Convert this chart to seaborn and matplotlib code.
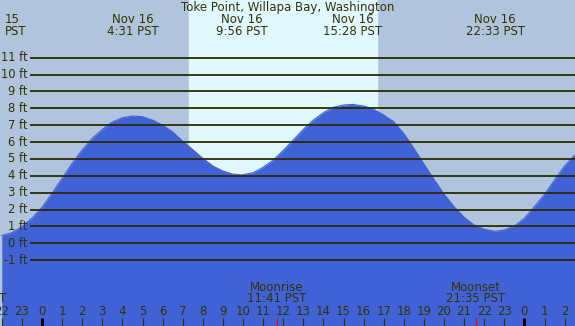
import numpy as np
import pandas as pd
import matplotlib
matplotlib.use("Agg")
import matplotlib.pyplot as plt
import matplotlib.transforms as mtransforms
import seaborn as sns

# tide height (ft), hours from midnight Nov 16 (PST)
hours = [-2, -1.5, -1, -0.5, 0, 0.5, 1, 1.5, 2, 2.5, 3, 3.5, 4, 4.52, 5, 5.5, 6, 6.5,
         7, 7.5, 8, 8.5, 9, 9.5, 9.93, 10.5, 11, 11.5, 12, 12.5, 13, 13.5, 14, 14.5,
         15, 15.47, 16, 16.5, 17, 17.5, 18, 18.5, 19, 19.5, 20, 20.5, 21, 21.5, 22,
         22.55, 23, 23.5, 24, 24.5, 25, 25.5, 26, 26.5]
heights = [0.46, 0.63, 0.98, 1.48, 2.13, 2.96, 3.85, 4.74, 5.53, 6.22, 6.75, 7.19, 7.44,
           7.54, 7.50, 7.30, 7.00, 6.60, 6.05, 5.55, 5.03, 4.58, 4.28, 4.10, 4.05, 4.18,
           4.50, 4.93, 5.50, 6.12, 6.75, 7.30, 7.74, 8.06, 8.19, 8.23, 8.13, 7.94, 7.60,
           7.20, 6.50, 5.63, 4.70, 3.79, 2.92, 2.17, 1.54, 1.08, 0.83, 0.71, 0.79, 1.02,
           1.48, 2.17, 2.90, 3.75, 4.58, 5.23]

# high / low tide events
event_hours = [4.52, 9.93, 15.47, 22.55]
event_labels = ["4:31 PST", "9:56 PST", "15:28 PST", "22:33 PST"]
event_day = "Nov 16"

sunrise, sunset = 7.31, 16.68
moonrise, moonset = 11.68, 21.58
moon_texts = [("Moonrise", "11:41 PST"), ("Moonset", "21:35 PST")]

levels = list(range(-1, 12))
tick_hours = list(range(-2, 27))
tick_labels = [str(h % 24) for h in tick_hours]

title = "Toke Point, Willapa Bay, Washington"

NIGHT = "#B0C4DE"
DAY = "#E0F8FF"
WATER = "#4161D6"
INK = "#333300"
LINE = "#2b2b00"

df = pd.DataFrame({"hour": hours, "height": heights})

fig = plt.figure(figsize=(5.75, 3.26), dpi=100)
ax = fig.add_axes([0, 0, 1, 1])
ax.set_facecolor(NIGHT)
ax.set_xlim(-2.0896, 26.517)
ax.set_ylim(-4.899, 14.414)
ax.set_axis_off()
fig.patch.set_facecolor(NIGHT)

ax.axvspan(sunrise, sunset, color=DAY, zorder=0)
ax.fill_between(df["hour"], df["height"], -10, color=WATER, lw=0, zorder=1)
sns.lineplot(data=df, x="hour", y="height", color=WATER, lw=0.8, ax=ax, zorder=2)

# level lines and labels
x0 = -0.62  # start of lines (just right of labels)
for lv in levels:
    ax.plot([x0, 27], [lv, lv], color=LINE, lw=1.3, zorder=3, solid_capstyle="butt")
    ax.text(x0 - 0.1, lv, f"{lv} ft", ha="right", va="center", fontsize=8.3, color=INK)

trans = mtransforms.blended_transform_factory(ax.transData, ax.transAxes)

# header
ax.text(0.5, 0.977, title, transform=ax.transAxes, ha="center", va="center",
        fontsize=8.5, color=INK)
for h, lab in zip(event_hours, event_labels):
    ax.text(h, 0.940, event_day, transform=trans, ha="center", va="center", fontsize=8.5, color=INK)
    ax.text(h, 0.9034, lab, transform=trans, ha="center", va="center", fontsize=8.5, color=INK)
# clipped label from the previous day
ax.text(0.008, 0.940, "15", transform=ax.transAxes, ha="left", va="center", fontsize=8.5, color=INK)
ax.text(0.008, 0.9034, "PST", transform=ax.transAxes, ha="left", va="center", fontsize=8.5, color=INK)

# hour ticks
for h, lab in zip(tick_hours, tick_labels):
    bold = (h % 24 == 0)
    ax.plot([h, h], [0, 0.0245], transform=trans, color="black" if bold else INK,
            lw=2.2 if bold else 0.8, solid_capstyle="butt", zorder=4)
    ax.text(h, 0.0439, lab, transform=trans, ha="center", va="center", fontsize=8.5, color=INK)

for h, (name, t) in zip([moonrise, moonset], moon_texts):
    ax.plot([h, h], [0, 0.0245], transform=trans, color="red", lw=0.8,
            solid_capstyle="butt", zorder=4)
    ax.text(h, 0.118, name, transform=trans, ha="center", va="center", fontsize=8.5, color=INK)
    ax.text(h, 0.083, t, transform=trans, ha="center", va="center", fontsize=8.5, color=INK)
ax.text(-0.002, 0.083, "T", transform=ax.transAxes, ha="left", va="center", fontsize=8.5, color=INK)

fig.savefig("out.png", dpi=100, facecolor=NIGHT)
